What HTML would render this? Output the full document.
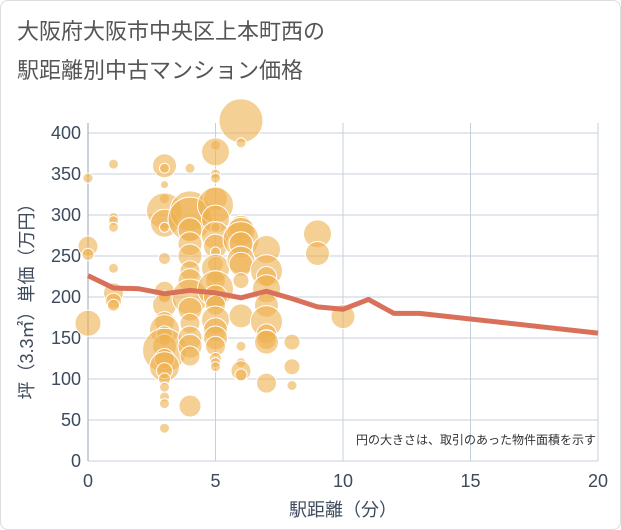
<!DOCTYPE html>
<html><head><meta charset="utf-8">
<style>
body{margin:0;background:#fff;}
#wrap{position:relative;width:619px;height:528px;border:1px solid #ddd;border-radius:8px;overflow:hidden;background:#fff;font-family:"Liberation Sans","Noto Sans CJK JP",sans-serif;}
#title{position:absolute;left:16px;top:11px;font-size:22px;line-height:39px;color:#555;}
svg{position:absolute;left:0;top:0;}
</style></head><body>
<div id="wrap">
<div id="title">大阪府大阪市中央区上本町西の<br>駅距離別中古マンション価格</div>
<svg id="chart" width="621" height="530"></svg>
</div>
<script>
const xTicks=[0,5,10,15,20];
const yTicks=[0,50,100,150,200,250,300,350,400];
const bubbleX=[0,0,0,0,1,1,1,1,1,1,1,1,3,3,3,3,3,3,3,3,3,3,3,3,3,3,3,3,3,3,3,3,3,3,3,3,3,4,4,4,4,4,4,4,4,4,4,4,4,4,4,4,5,5,5,5,5,5,5,5,5,5,5,5,5,5,5,5,5,5,5,5,5,5,5,5,6,6,6,6,6,6,6,6,6,6,6,6,6,6,7,7,7,7,7,7,7,7,7,7,8,8,8,9,9,10];
const bubbleY=[345,262,252,168,362,297,293,285,235,205,195,190,360,357,337,320,305,290,285,247,207,200,190,170,160,155,148,140,135,125,115,110,100,90,78,70,40,357,305,295,282,265,250,232,220,200,185,168,150,140,128,67,385,377,350,345,320,312,295,285,275,262,255,240,235,220,210,200,190,172,160,150,140,125,120,115,415,388,285,280,270,265,245,240,220,177,140,120,110,105,258,232,225,210,190,170,155,148,145,95,145,115,92,277,253,176];
const bubbleR=[5,10,6,13,5,5,5,5,5,10,8,6,12,5,4,5,18,14,5,6,10,6,12,10,15,8,6,12,22,10,15,8,6,5,5,5,5,5,20,22,12,12,12,10,12,18,12,10,12,12,10,11,5,14,5,5,12,18,14,5,14,12,5,8,14,10,18,12,10,14,12,12,10,6,5,5,22,5,12,14,18,12,14,12,8,12,5,5,10,6,14,16,10,14,12,16,10,10,12,10,8,8,5,14,12,12];
const lineX=[0,1,2,3,4,5,6,7,8,9,10,11,12,13,20];
const lineY=[226,211,210,204,208,205,199,207,198,188,185,197,180,180,156];
const X0=87,X1=597,Y0=460,Y1=132;
const sx=v=>X0+(v-0)/20*(X1-X0);
const sy=v=>Y0-v/400*(Y0-Y1);
const svg=document.getElementById('chart');
const NS='http://www.w3.org/2000/svg';
function mk(t,a){const e=document.createElementNS(NS,t);for(const k in a)e.setAttribute(k,a[k]);svg.appendChild(e);return e;}
yTicks.forEach(v=>{
 const g=mk('line',{x1:X0,x2:X1,y1:sy(v),y2:sy(v),stroke:'#c5d0dc','stroke-width':1});
 
 
 const t=mk('text',{x:X0-7,y:sy(v)+6,'text-anchor':'end','font-size':18,fill:'#3d4a5c'});
 t.textContent=v;
 
 
});
xTicks.forEach(v=>{
 const g=mk('line',{x1:sx(v),x2:sx(v),y1:Y1-10,y2:Y0,stroke:'#c5d0dc','stroke-width':1});
 
 
 const t=mk('text',{x:sx(v),y:Y0+26,'text-anchor':'middle','font-size':18,fill:'#3d4a5c'});
 t.textContent=v;
 
 
});
const ax=mk('line',{x1:X0,x2:X0,y1:Y1-10,y2:Y0,stroke:'#9aa6b4','stroke-width':1});


bubbleX.forEach((x,i)=>{
 const c=mk('circle',{cx:sx(x),cy:sy(bubbleY[i]),r:bubbleR[i],fill:'rgba(238,176,78,0.6)',stroke:'#fff','stroke-width':1});
 
 
});
const pts=lineX.map((x,i)=>sx(x)+','+sy(lineY[i])).join(' ');
const pl=mk('polyline',{points:pts,fill:'none',stroke:'#d9705a','stroke-width':5,'stroke-linejoin':'round'});


const yt=mk('text',{x:0,y:0,transform:'translate(32,296) rotate(-90)','text-anchor':'middle','font-size':18,fill:'#3d4a5c'});
yt.textContent='坪（3.3㎡）単価（万円）';


const xt=mk('text',{x:342,y:515,'text-anchor':'middle','font-size':18,fill:'#3d4a5c'});
xt.textContent='駅距離（分）';


const note=mk('text',{x:595,y:443,'text-anchor':'end','font-size':12,fill:'#333'});
note.textContent='円の大きさは、取引のあった物件面積を示す';


</script>
</body></html>
